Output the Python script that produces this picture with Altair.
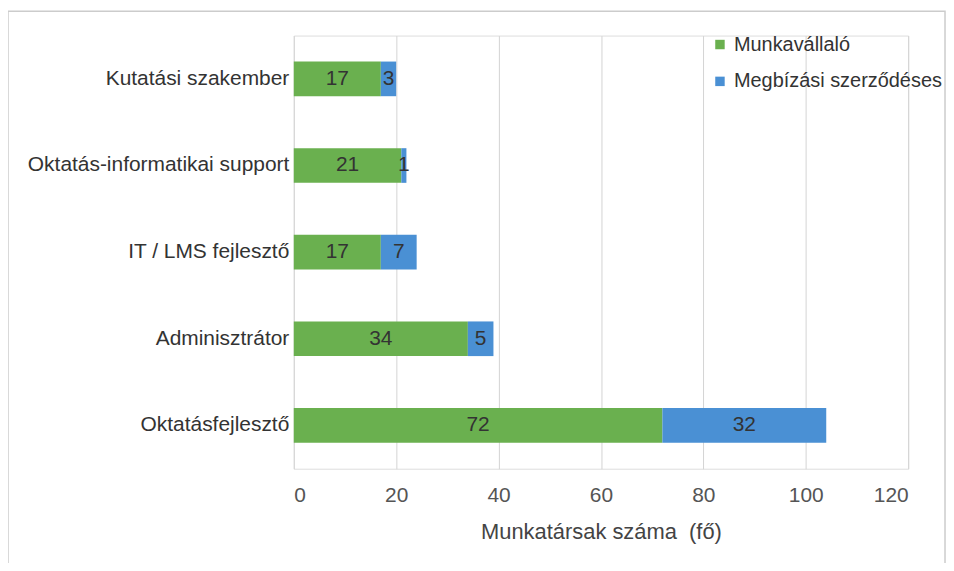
import altair as alt
import pandas as pd

categories = ["Kutatási szakember", "Oktatás-informatikai support", "IT / LMS fejlesztő",
              "Adminisztrátor", "Oktatásfejlesztő"]
series = ["Munkavállaló", "Megbízási szerződéses"]
munkavallalo = [17, 21, 17, 34, 72]
megbizasi = [3, 1, 7, 5, 32]
x_ticks = [0, 20, 40, 60, 80, 100, 120]
colors = ["#6ab04f", "#4a90d4"]
FONT = "Liberation Sans"
FS = 21

rows = []
for i, c in enumerate(categories):
    rows.append({"cat": c, "series": series[0], "order": 0, "value": munkavallalo[i]})
    rows.append({"cat": c, "series": series[1], "order": 1, "value": megbizasi[i]})
df = pd.DataFrame(rows)

base = alt.Chart(df).transform_stack(
    stack="value", as_=["x0", "x1"], groupby=["cat"], sort=[alt.SortField("order")]
).transform_calculate(mid="(datum.x0 + datum.x1) / 2")

ycat = alt.Y("cat:N", sort=categories, title=None,
             scale=alt.Scale(paddingInner=0.6, paddingOuter=0.3),
             axis=alt.Axis(domain=False, ticks=False, labelFontSize=FS, labelColor="#333333",
                           labelFont=FONT, labelPadding=5, labelLimit=400))

bars = base.mark_bar().encode(
    x=alt.X("x0:Q", scale=alt.Scale(domain=[0, 120], nice=False),
            axis=alt.Axis(values=x_ticks, domain=False, ticks=False, grid=True,
                          gridColor="#d4d4d4", labelFontSize=FS, labelColor="#555555",
                          labelFont=FONT, labelPadding=16,
                          title="Munkatársak száma \u00a0(fő)", titleFont=FONT,
                          titleFontSize=22, titleFontWeight="normal", titleColor="#444444",
                          titlePadding=16)),
    x2="x1:Q",
    y=ycat,
    color=alt.Color("series:N", sort=series,
                    scale=alt.Scale(domain=series, range=colors),
                    legend=alt.Legend(title=None, orient="none", legendX=418, legendY=-1,
                                      symbolType="square", symbolSize=90,
                                      symbolStrokeWidth=0, labelFontSize=20,
                                      labelFont=FONT, labelColor="#333333",
                                      rowPadding=17, labelOffset=4, labelLimit=400)),
)

labels = base.mark_text(fontSize=FS, font=FONT, color="#333333").encode(
    x=alt.X("mid:Q"),
    y=alt.Y("cat:N", sort=categories),
    text=alt.Text("value:Q"),
)

frame = alt.Chart(pd.DataFrame({"a": [0]})).mark_rect(
    fill=None, stroke="#cccccc", strokeWidth=1.5, clip=False
).encode(x=alt.value(-287), x2=alt.value(654), y=alt.value(-24.5), y2=alt.value(560))

chart = alt.layer(bars, labels, frame).properties(
    width=617, height=435,
    autosize=alt.AutoSizeParams(type="none"),
    padding={"left": 287, "top": 26.5, "right": 38, "bottom": 93},
).configure_view(stroke=None).configure(background="white")

chart.save("out.html", embed_options={"renderer": "svg", "actions": False})
